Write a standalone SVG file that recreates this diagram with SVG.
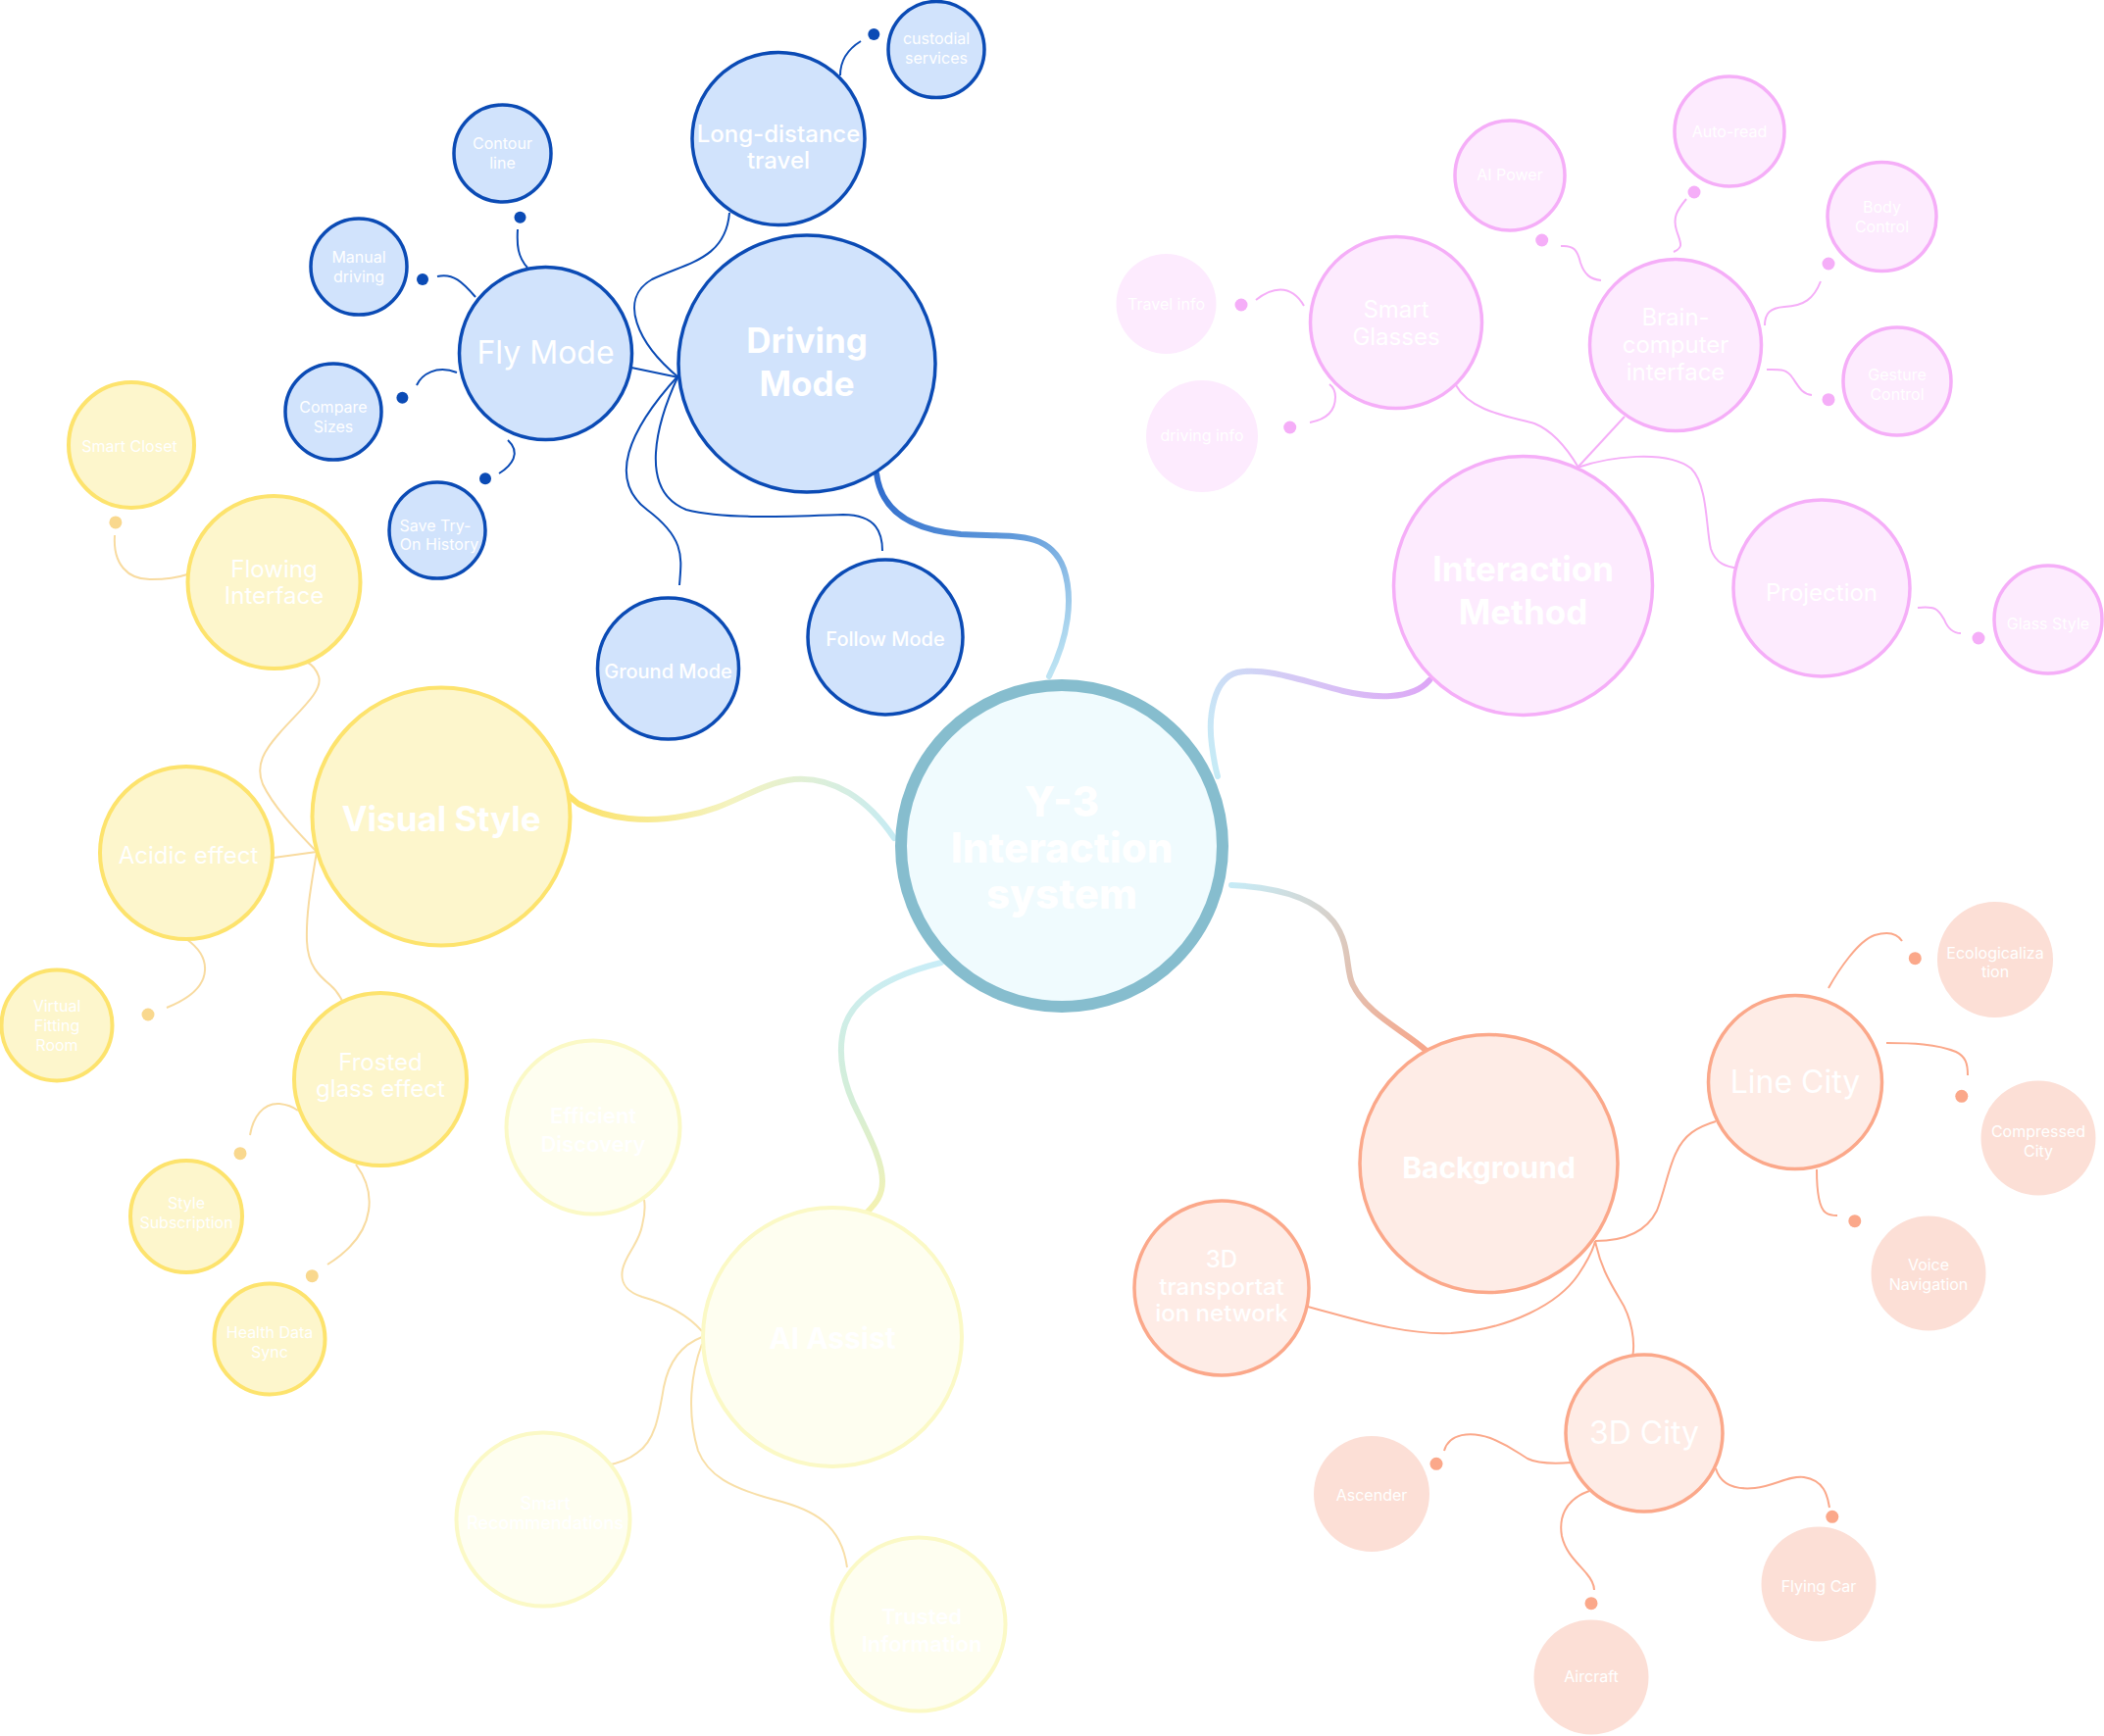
<svg xmlns="http://www.w3.org/2000/svg" width="2146" height="1771" viewBox="0 0 2146 1771">
<style>
.t{fill:#FFFFFF;font-family:Inter,"Liberation Sans",sans-serif;text-anchor:middle}
.f16{font-size:16px}
.f18{font-size:18px;font-weight:500}
.f20{font-size:20px;font-weight:500}
.f22{font-size:22px;font-weight:600}
.f24{font-size:24px}
.f24m{font-size:24px;font-weight:500}
.f30b{font-size:30px;font-weight:700}
.f32{font-size:32px}
.f35b{font-size:35px;font-weight:700}
.f42{font-size:42px;font-weight:800}
.bn{fill:#D1E3FC;stroke:#0B4BB5;stroke-width:3.5}
.pn{fill:#FDEBFE;stroke:#F5AEF8;stroke-width:3.5}
.pl{fill:#FDEBFE}
.sn{fill:#FEECE6;stroke:#FBA88A;stroke-width:3.5}
.sl{fill:#FCDFD6}
.yn{fill:#FDF6CC;stroke:#FDE36D;stroke-width:4}
.an{fill:#FEFEF0;stroke:#FBF9C6;stroke-width:4}
.cn{fill:#F0FBFE;stroke:#86BDCE;stroke-width:12}
.cb{fill:none;stroke:#0B4BB5;stroke-width:2}
.cp{fill:none;stroke:#F5AEF8;stroke-width:2}
.cs{fill:none;stroke:#FBA88A;stroke-width:2}
.cy{fill:none;stroke:#F8DBA0;stroke-width:2}
.ca{fill:none;stroke:#F8DFA8;stroke-width:2}
.db{fill:#0B4BB5}
.dp{fill:#F5AEF8}
.ds{fill:#FBA88A}
.dy{fill:#F9D88E}
.main{fill:none;stroke-width:6;stroke-linecap:round}
</style>
<defs>
<linearGradient id="gBlue" gradientUnits="userSpaceOnUse" x1="894" y1="483" x2="1070" y2="690">
<stop offset="0" stop-color="#2C69CC"/><stop offset="0.5" stop-color="#5E98DA"/><stop offset="1" stop-color="#BEE4F3"/>
</linearGradient>
<linearGradient id="gPink" gradientUnits="userSpaceOnUse" x1="1458" y1="694" x2="1242" y2="792">
<stop offset="0" stop-color="#DDA6F6"/><stop offset="0.5" stop-color="#D6C7F5"/><stop offset="1" stop-color="#C6EBF6"/>
</linearGradient>
<linearGradient id="gSalmon" gradientUnits="userSpaceOnUse" x1="1256" y1="903" x2="1455" y2="1072">
<stop offset="0" stop-color="#C6EBF6"/><stop offset="0.5" stop-color="#DDC8BC"/><stop offset="1" stop-color="#F7A68A"/>
</linearGradient>
<linearGradient id="gYellow" gradientUnits="userSpaceOnUse" x1="572" y1="805" x2="912" y2="855">
<stop offset="0" stop-color="#FDE05F"/><stop offset="0.5" stop-color="#F4F3C0"/><stop offset="1" stop-color="#C6EBF3"/>
</linearGradient>
<linearGradient id="gAI" gradientUnits="userSpaceOnUse" x1="960" y1="982" x2="885" y2="1236">
<stop offset="0" stop-color="#C9EDF7"/><stop offset="0.6" stop-color="#D4EED8"/><stop offset="1" stop-color="#F5F2B0"/>
</linearGradient>
</defs>

<g id="connectors">
<!-- main branches -->
<path class="main" stroke="url(#gBlue)" d="M894,483 C898,515 920,540 980,545 C1030,548 1070,540 1085,580 C1095,610 1090,650 1070,690"/>
<path class="main" stroke="url(#gPink)" d="M1458,694 C1440,715 1400,712 1370,705 C1330,695 1290,680 1262,686 C1238,692 1232,730 1236,760 C1238,775 1240,785 1242,792"/>
<path class="main" stroke="url(#gSalmon)" d="M1256,903 C1300,905 1340,915 1360,940 C1378,963 1372,990 1380,1005 C1395,1035 1430,1050 1455,1072"/>
<path class="main" stroke="url(#gYellow)" d="M568,800 C575,808 580,812 590,820 C620,836 660,840 700,832 C745,825 770,800 810,795 C850,792 885,815 912,855"/>
<path class="main" stroke="url(#gAI)" d="M960,982 C920,992 875,1010 862,1045 C852,1075 862,1110 875,1135 C888,1162 900,1185 900,1205 C900,1220 893,1228 885,1236"/>

<!-- blue -->
<path class="cb" d="M744,217 C740,265 700,268 665,285 C630,305 650,350 692,385"/>
<path class="cb" d="M644,375 L692,385"/>
<path class="cb" d="M692,383 C640,440 620,490 660,520 C700,550 695,570 693,597"/>
<path class="cb" d="M692,383 C670,430 650,500 700,520 C740,530 800,527 860,525 C895,525 900,545 900,562"/>
<path class="cb" d="M528,234 C527,250 528,262 538,273"/>
<path class="cb" d="M446,282 C462,278 472,288 485,303"/>
<path class="cb" d="M425,393 C430,382 445,372 466,380"/>
<path class="cb" d="M509,483 C522,475 532,462 518,449"/>
<path class="cb" d="M878,42 C865,50 857,62 857,77"/>
<circle class="db" cx="530.5" cy="221.7" r="6"/>
<circle class="db" cx="431" cy="285" r="6"/>
<circle class="db" cx="410.4" cy="405.7" r="6"/>
<circle class="db" cx="495" cy="488.3" r="6"/>
<circle class="db" cx="891.3" cy="35" r="6"/>

<!-- pink -->
<path class="cp" d="M1609,477 C1640,466 1700,458 1725,478 C1742,495 1740,540 1745,560 C1750,575 1760,578 1774,580"/>
<path class="cp" d="M1657,425 L1609,477"/>
<path class="cp" d="M1485,393 C1500,420 1540,425 1565,432 C1585,440 1600,460 1610,477"/>
<path class="cp" d="M1956,620 C1975,618 1977,622 1983,632 C1987,642 1992,646 2000,646"/>
<path class="cp" d="M1720,203 C1710,215 1706,222 1710,235 C1714,248 1718,252 1707,257"/>
<path class="cp" d="M1857,287 C1850,305 1840,312 1820,313 C1805,314 1800,320 1800,332"/>
<path class="cp" d="M1802,377 C1815,377 1822,376 1828,385 C1835,395 1838,402 1848,403"/>
<path class="cp" d="M1281,306 C1296,294 1316,288 1330,312"/>
<path class="cp" d="M1336,431 C1352,428 1362,420 1362,405 C1362,398 1360,395 1356,392"/>
<path class="cp" d="M1592,251 C1605,250 1609,255 1612,268 C1616,280 1622,285 1633,286"/>
<circle class="dp" cx="2018" cy="651" r="6.5"/>
<circle class="dp" cx="1728" cy="196" r="6.5"/>
<circle class="dp" cx="1865" cy="269" r="6.5"/>
<circle class="dp" cx="1865" cy="407.7" r="6.5"/>
<circle class="dp" cx="1266" cy="311" r="6.5"/>
<circle class="dp" cx="1315.7" cy="436" r="6.5"/>
<circle class="dp" cx="1572.7" cy="245" r="6.5"/>

<!-- salmon -->
<path class="cs" d="M1627,1266 C1660,1266 1680,1255 1690,1235 C1698,1215 1702,1190 1710,1175 C1718,1158 1730,1150 1750,1144"/>
<path class="cs" d="M1334,1333 C1380,1345 1430,1362 1480,1360 C1540,1356 1590,1330 1610,1300 C1620,1285 1625,1275 1627,1266"/>
<path class="cs" d="M1627,1266 C1632,1290 1640,1305 1652,1325 C1665,1345 1668,1370 1665,1385 C1664,1392 1663,1396 1663,1400"/>
<path class="cs" d="M1865,1008 C1875,990 1895,960 1912,954 C1925,950 1935,952 1940,960"/>
<path class="cs" d="M1924,1064 C1950,1064 1975,1065 1995,1073 C2005,1078 2007,1085 2007,1097"/>
<path class="cs" d="M1853,1193 C1853,1215 1855,1232 1862,1237 C1866,1240 1870,1240 1874,1240"/>
<path class="cs" d="M1473,1480 C1478,1462 1500,1460 1520,1467 C1540,1475 1548,1482 1558,1488 C1570,1494 1590,1493 1603,1492"/>
<path class="cs" d="M1621,1521 C1595,1530 1590,1550 1593,1567 C1597,1585 1610,1595 1618,1605 C1624,1612 1626,1616 1626,1622"/>
<path class="cs" d="M1750,1498 C1755,1515 1770,1520 1790,1518 C1810,1516 1825,1505 1840,1507 C1860,1510 1864,1525 1866,1538"/>
<circle class="ds" cx="1953.3" cy="977.7" r="6.5"/>
<circle class="ds" cx="2000.8" cy="1118.3" r="6.5"/>
<circle class="ds" cx="1891.8" cy="1245.7" r="6.5"/>
<circle class="ds" cx="1465" cy="1493.3" r="6.5"/>
<circle class="ds" cx="1623" cy="1635.7" r="6.5"/>
<circle class="ds" cx="1868.8" cy="1547.3" r="6.5"/>

<!-- yellow -->
<path class="cy" d="M323,869 L279,875"/>
<path class="cy" d="M323,869 C318,900 312,930 313,960 C314,985 325,995 337,1005 C343,1010 346,1015 349,1021"/>
<path class="cy" d="M323,869 C305,850 280,825 268,800 C260,780 270,765 285,748 C305,725 330,705 325,690 C322,682 318,678 314,676" stroke="#FBE6BC"/>
<path class="cy" d="M117,546 C115,575 130,592 155,591 C170,591 182,589 191,586"/>
<path class="cy" d="M170,1028 C190,1020 208,1008 209,990 C210,975 200,965 190,958"/>
<path class="cy" d="M255,1158 C258,1140 268,1125 285,1126 C295,1127 300,1130 304,1133"/>
<path class="cy" d="M334,1290 C350,1280 372,1262 376,1235 C379,1215 372,1200 363,1188"/>
<circle class="dy" cx="117.9" cy="532.9" r="6.5"/>
<circle class="dy" cx="151" cy="1035" r="6.5"/>
<circle class="dy" cx="245" cy="1176.7" r="6.5"/>
<circle class="dy" cx="318.3" cy="1301.7" r="6.5"/>

<!-- AI assist -->
<path class="ca" d="M716,1358 C700,1340 680,1330 655,1323 C640,1318 632,1310 635,1295 C638,1280 652,1268 655,1250 C658,1238 658,1230 657,1224"/>
<path class="ca" d="M716,1364 C695,1372 682,1390 677,1415 C672,1445 668,1470 650,1482 C640,1490 630,1493 618,1495"/>
<path class="ca" d="M716,1371 C705,1400 700,1440 712,1480 C722,1505 745,1518 790,1530 C830,1540 858,1555 864,1599"/>
</g>

<!-- center -->
<g id="node-center">
<circle class="cn" cx="1083" cy="863" r="164"/>
<text class="t f42" x="1083" y="833">Y-3</text>
<text class="t f42" x="1083" y="880">Interaction</text>
<text class="t f42" x="1083" y="927">system</text>
</g>

<!-- blue branch -->
<g id="node-driving-mode"><circle class="bn" cx="823" cy="371" r="131"/>
<text class="t f35b" x="823" y="360">Driving</text><text class="t f35b" x="823" y="404">Mode</text></g>
<g id="node-fly-mode"><circle class="bn" cx="556.5" cy="360.5" r="88"/>
<text class="t f32" x="556.5" y="371">Fly Mode</text></g>
<g id="node-long-distance"><circle class="bn" cx="794" cy="141.5" r="88"/>
<text class="t f24m" x="794" y="145">Long-distance</text><text class="t f24m" x="794" y="172">travel</text></g>
<g id="node-custodial"><circle class="bn" cx="955" cy="50.5" r="49"/>
<text class="t f16" x="955" y="45">custodial</text><text class="t f16" x="955" y="65">services</text></g>
<g id="node-contour"><circle class="bn" cx="512.5" cy="156.5" r="49.5"/>
<text class="t f16" x="512.5" y="152">Contour</text><text class="t f16" x="512.5" y="172">line</text></g>
<g id="node-manual"><circle class="bn" cx="366" cy="272" r="49"/>
<text class="t f16" x="366" y="268">Manual</text><text class="t f16" x="366" y="288">driving</text></g>
<g id="node-compare"><circle class="bn" cx="340" cy="420" r="49"/>
<text class="t f16" x="340" y="421">Compare</text><text class="t f16" x="340" y="441">Sizes</text></g>
<g id="node-save"><circle class="bn" cx="446" cy="541" r="49"/>
<text class="t f16" x="444" y="542">Save Try-</text><text class="t f16" x="448" y="561">On History</text></g>
<g id="node-ground"><circle class="bn" cx="681.5" cy="682" r="72"/>
<text class="t f20" x="681.5" y="692">Ground Mode</text></g>
<g id="node-follow"><circle class="bn" cx="903" cy="650" r="79"/>
<text class="t f20" x="903" y="659">Follow Mode</text></g>

<!-- pink branch -->
<g id="node-interaction"><circle class="pn" cx="1553.5" cy="597.5" r="132"/>
<text class="t f35b" x="1553.5" y="593">Interaction</text><text class="t f35b" x="1553.5" y="637">Method</text></g>
<g id="node-projection"><circle class="pn" cx="1858" cy="600" r="90"/>
<text class="t f24" x="1858" y="613">Projection</text></g>
<g id="node-glass-style"><circle class="pn" cx="2089" cy="632" r="55"/>
<text class="t f16" x="2089" y="642">Glass Style</text></g>
<g id="node-smart-glasses"><circle class="pn" cx="1424" cy="329" r="87.5"/>
<text class="t f24" x="1424" y="324">Smart</text><text class="t f24" x="1424" y="352">Glasses</text></g>
<g id="node-bci"><circle class="pn" cx="1709" cy="352" r="87.5"/>
<text class="t f24" x="1709" y="332">Brain-</text><text class="t f24" x="1709" y="360">computer</text><text class="t f24" x="1709" y="388">interface</text></g>
<g id="node-ai-power"><circle class="pn" cx="1540" cy="179" r="56"/>
<text class="t f16" x="1540" y="184">AI Power</text></g>
<g id="node-auto-read"><circle class="pn" cx="1764" cy="134" r="56"/>
<text class="t f16" x="1764" y="140">Auto-read</text></g>
<g id="node-body-control"><circle class="pn" cx="1919.5" cy="221" r="55.5"/>
<text class="t f16" x="1919.5" y="217">Body</text><text class="t f16" x="1919.5" y="237">Control</text></g>
<g id="node-gesture-control"><circle class="pn" cx="1935" cy="389" r="55"/>
<text class="t f16" x="1935" y="388">Gesture</text><text class="t f16" x="1935" y="408">Control</text></g>
<g id="node-travel-info"><circle class="pl" cx="1189.5" cy="310" r="51"/>
<text class="t f16" x="1189.5" y="316">Travel info</text></g>
<g id="node-driving-info"><circle class="pl" cx="1226" cy="445" r="57"/>
<text class="t f16" x="1226" y="450">driving info</text></g>

<!-- salmon branch -->
<g id="node-background"><circle class="sn" cx="1518.5" cy="1187" r="131.5"/>
<text class="t f30b" x="1518.5" y="1202">Background</text></g>
<g id="node-line-city"><circle class="sn" cx="1831" cy="1104" r="88.5"/>
<text class="t f32" x="1831" y="1115">Line City</text></g>
<g id="node-3d-transport"><circle class="sn" cx="1246" cy="1314" r="89"/>
<text class="t f24m" x="1246" y="1293">3D</text><text class="t f24m" x="1246" y="1321">transportat</text><text class="t f24m" x="1246" y="1348">ion network</text></g>
<g id="node-3d-city"><circle class="sn" cx="1677" cy="1462" r="80"/>
<text class="t f32" x="1677" y="1473">3D City</text></g>
<g id="node-ecological"><circle class="sl" cx="2035" cy="979" r="59"/>
<text class="t f16" x="2035" y="978">Ecologicaliza</text><text class="t f16" x="2035" y="997">tion</text></g>
<g id="node-compressed"><circle class="sl" cx="2079" cy="1161" r="58.5"/>
<text class="t f16" x="2079" y="1160">Compressed</text><text class="t f16" x="2079" y="1180">City</text></g>
<g id="node-voice"><circle class="sl" cx="1967" cy="1299" r="58.5"/>
<text class="t f16" x="1967" y="1296">Voice</text><text class="t f16" x="1967" y="1316">Navigation</text></g>
<g id="node-ascender"><circle class="sl" cx="1399" cy="1524" r="59"/>
<text class="t f16" x="1399" y="1531">Ascender</text></g>
<g id="node-aircraft"><circle class="sl" cx="1623" cy="1711" r="58.5"/>
<text class="t f16" x="1623" y="1716">Aircraft</text></g>
<g id="node-flying-car"><circle class="sl" cx="1855" cy="1616" r="58.5"/>
<text class="t f16" x="1855" y="1624">Flying Car</text></g>

<!-- yellow branch -->
<g id="node-visual-style"><circle class="yn" cx="450" cy="833" r="131.5"/>
<text class="t f35b" x="450" y="848">Visual Style</text></g>
<g id="node-flowing"><circle class="yn" cx="279.5" cy="594" r="88"/>
<text class="t f24" x="279.5" y="589">Flowing</text><text class="t f24" x="279.5" y="616">Interface</text></g>
<g id="node-smart-closet"><circle class="yn" cx="134" cy="454" r="64"/>
<text class="t f16" x="132" y="461">Smart Closet</text></g>
<g id="node-acidic"><circle class="yn" cx="190" cy="870" r="88"/>
<text class="t f24" x="192" y="881">Acidic effect</text></g>
<g id="node-virtual-fitting"><circle class="yn" cx="58" cy="1046" r="56.5"/>
<text class="t f16" x="58" y="1032">Virtual</text><text class="t f16" x="58" y="1052">Fitting</text><text class="t f16" x="58" y="1072">Room</text></g>
<g id="node-frosted"><circle class="yn" cx="388" cy="1101" r="88"/>
<text class="t f24" x="388" y="1092">Frosted</text><text class="t f24" x="388" y="1119">glass effect</text></g>
<g id="node-style-sub"><circle class="yn" cx="190" cy="1241" r="57"/>
<text class="t f16" x="190" y="1233">Style</text><text class="t f16" x="190" y="1253">Subscription</text></g>
<g id="node-health"><circle class="yn" cx="275" cy="1366" r="56.5"/>
<text class="t f16" x="275" y="1365">Health Data</text><text class="t f16" x="275" y="1385">Sync</text></g>

<!-- AI assist branch -->
<g id="node-ai-assist"><circle class="an" cx="849" cy="1364" r="132"/>
<text class="t f30b" x="849" y="1376">AI Assist</text></g>
<g id="node-efficient"><circle class="an" cx="605" cy="1150" r="88.5"/>
<text class="t f22" x="605" y="1146">Efficient</text><text class="t f22" x="605" y="1175">Discovery</text></g>
<g id="node-smart-rec"><circle class="an" cx="554" cy="1550" r="88.5"/>
<text class="t f18" x="556" y="1540">Smart</text><text class="t f18" x="556" y="1560">Recommendations</text></g>
<g id="node-trusted"><circle class="an" cx="937" cy="1657" r="88.5"/>
<text class="t f22" x="940" y="1657">Trusted</text><text class="t f22" x="940" y="1685">Information</text></g>
</svg>
